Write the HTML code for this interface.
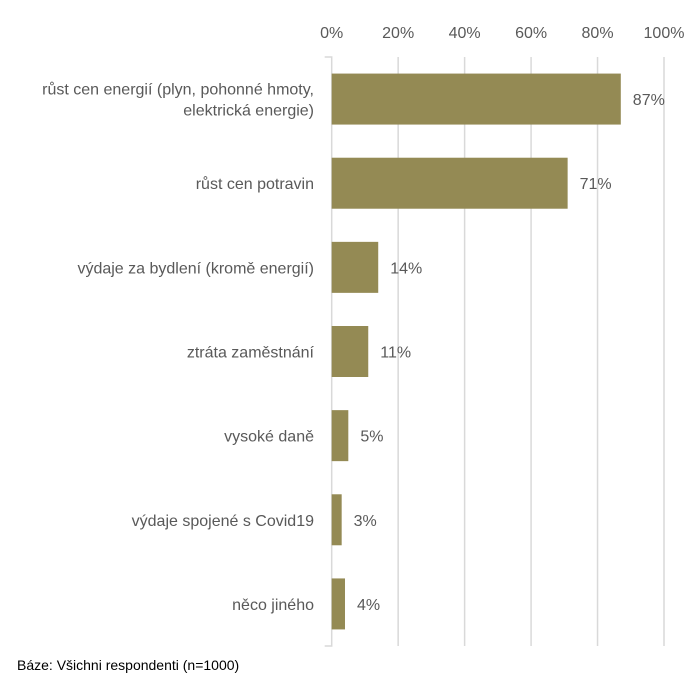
<!DOCTYPE html>
<html><head><meta charset="utf-8"><style>
body{margin:0;background:#fff;}
svg text{font-family:"Liberation Sans",sans-serif;fill:#595959;font-size:16px;}
</style></head><body>
<svg id="c" width="697" height="684" xmlns="http://www.w3.org/2000/svg"></svg>
<script>
const categories=[["růst cen energií (plyn, pohonné hmoty,","elektrická energie)"],["růst cen potravin"],["výdaje za bydlení (kromě energií)"],["ztráta zaměstnání"],["vysoké daně"],["výdaje spojené s Covid19"],["něco jiného"]];
const values=[87,71,14,11,5,3,4];
const ticks=[0,20,40,60,80,100];
const tickLabels=["0%","20%","40%","60%","80%","100%"];
const svg=document.getElementById('c');const NS="http://www.w3.org/2000/svg";
const x0=331.7,x1=664,yTop=57,yBot=646;
const xs=v=>x0+(x1-x0)*v/100;
const band=(yBot-yTop)/categories.length;
function mk(t,a,txt){const e=document.createElementNS(NS,t);for(const k in a)e.setAttribute(k,a[k]);if(txt!=null)e.textContent=txt;svg.appendChild(e);return e;}
ticks.forEach((t,i)=>{
 if(i>0){const g=mk('line',{x1:xs(t),x2:xs(t),y1:yTop,y2:yBot,stroke:'#d9d9d9','stroke-width':1.5});
 }
 const l=mk('text',{x:xs(t),y:38,'text-anchor':'middle'},tickLabels[i]);
 
});
const ax=mk('path',{d:`M${x0-7},${yTop}H${x0}V${yBot}H${x0-7}`,fill:'none',stroke:'#d9d9d9','stroke-width':1.5});

categories.forEach((c,i)=>{
 const cy=yTop+band*(i+0.5);
 const b=mk('rect',{x:x0,y:cy-25.5,width:xs(values[i])-x0,height:51,fill:'#948a54'});
 
 const v=mk('text',{x:xs(values[i])+12,y:cy+6},values[i]+'%');
 
 c.forEach((line,j)=>{
  const yy=cy+6+(j-(c.length-1)/2)*21;
  const t=mk('text',{x:314,y:yy,'text-anchor':'end'},line);
  
 });
});
const f=mk('text',{x:17,y:670,'font-size':'14px',style:'fill:#000;font-size:14px'},"Báze: Všichni respondenti (n=1000)");

</script>
</body></html>
